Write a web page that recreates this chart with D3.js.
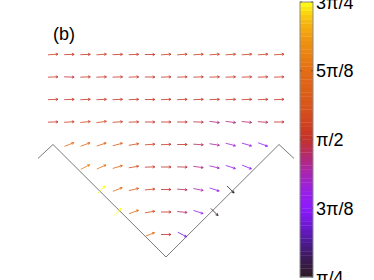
<!DOCTYPE html>
<html>
<head>
<meta charset="utf-8">
<script src="https://cdn.jsdelivr.net/npm/d3@7/dist/d3.min.js"></script>
<style>
html,body{margin:0;padding:0;background:#fff;}
svg{display:block;font-family:"Liberation Sans",Arial,Helvetica,sans-serif;}
</style>
</head>
<body>
<svg id="chart" width="374" height="280"></svg>
<script>
// grid columns (x) and rows (y, top row = 8)
const cols = d3.range(0, 15);
const rows = [8, 7, 6, 5, 4, 3, 2, 1, 0];
// arrow angle per row, in units of pi (0.5 = horizontal); null = no arrow
const angle8 = [0.52,0.51,0.51,0.52,0.51,0.51,0.50,0.52,0.52,0.52,0.52,0.52,0.52,0.52,0.52];
const angle7 = [0.51,0.49,0.51,0.51,0.51,0.51,0.50,0.51,0.51,0.51,0.51,0.51,0.51,0.51,0.51];
const angle6 = [0.51,0.51,0.51,0.51,0.51,0.51,0.50,0.51,0.51,0.51,0.51,0.51,0.51,0.51,0.51];
const angle5 = [0.51,0.52,0.53,0.54,0.52,0.51,0.50,0.50,0.50,0.49,0.46,0.46,0.47,0.48,0.50];
const angle4 = [null,0.62,0.61,0.60,0.58,0.55,0.52,0.51,0.50,0.48,0.45,0.42,0.41,0.39,null];
const angle3 = [null,null,0.65,0.63,0.59,0.55,0.51,0.50,0.49,0.46,0.43,0.40,0.38,null,null];
const angle2 = [null,null,null,0.75,0.62,0.57,0.53,0.50,0.48,0.44,0.40,0.25,null,null,null];
const angle1 = [null,null,null,null,0.75,0.61,0.55,0.50,0.47,0.40,0.25,null,null,null,null];
const angle0 = [null,null,null,null,null,null,0.62,0.50,0.35,null,null,null,null,null,null];
const angles = [angle8, angle7, angle6, angle5, angle4, angle3, angle2, angle1, angle0];
// wedge boundary
const wallX = [-0.93, 0, 7, 14, 14.93];
const wallY = [3.38, 4, -1, 4, 3.38];
// colour bar
const cbarTicks = [0.25, 0.375, 0.5, 0.625, 0.75];
const cbarLabels = ["π/4", "3π/8", "π/2", "5π/8", "3π/4"];
const panelLabel = "(b)";

const svg = d3.select("#chart");
const x = d3.scaleLinear().domain([0, 14]).range([53, 279]);
const y = d3.scaleLinear().domain([0, 8]).range([234.5, 54.5]);

const color = d3.scaleLinear()
  .domain([0.25,0.28,0.3125,0.34,0.375,0.41,0.44,0.47,0.5,0.53,0.5625,0.625,0.6875,0.72,0.75])
  .range(["#2b1b24","#3a1a50","#4c1a90","#6a18cc","#8c1aff","#9a20e0","#a826b0","#b42a70",
          "#c4322a","#d04220","#d8561a","#e46c14","#f09a10","#f8c010","#ffff14"])
  .clamp(true);

// boundary
svg.append("path")
  .attr("d", d3.line().x(d => x(d[0])).y(d => y(d[1]))(d3.zip(wallX, wallY)))
  .attr("fill", "none").attr("stroke", "#7a7a7a").attr("stroke-width", 1);

// arrows
const data = [];
rows.forEach((r, ri) => cols.forEach((c, ci) => {
  const a = angles[ri][ci];
  if (a !== null) data.push({c, r, a});
}));
const L = 10, H = 2.5;
svg.append("g").selectAll("path").data(data).enter().append("path")
  .attr("d", d => {
    const t = (d.a - 0.5) * Math.PI;
    const dx = Math.cos(t), dy = -Math.sin(t);
    const cx = x(d.c), cy = y(d.r);
    const x0 = cx - dx * L / 2, y0 = cy - dy * L / 2;
    const x1 = cx + dx * L / 2, y1 = cy + dy * L / 2;
    const ang = Math.atan2(dy, dx);
    const h1 = [x1 - H * Math.cos(ang - 0.5), y1 - H * Math.sin(ang - 0.5)];
    const h2 = [x1 - H * Math.cos(ang + 0.5), y1 - H * Math.sin(ang + 0.5)];
    return `M${x0},${y0}L${x1},${y1}M${h1[0]},${h1[1]}L${x1},${y1}L${h2[0]},${h2[1]}`;
  })
  .attr("fill", "none")
  .attr("stroke", d => color(d.a))
  .attr("stroke-width", 0.9)
  .attr("stroke-opacity", 0.9);

// panel label
svg.append("text").attr("x", 53).attr("y", 40).attr("font-size", 18).attr("fill", "#000").text(panelLabel);

// colour bar
const cy = d3.scaleLinear().domain([0.25, 0.75]).range([277, 2]);
const nb = 64;
const bands = d3.range(nb).map(i => 0.25 + (i + 0.5) * 0.5 / nb);
const cb = svg.append("g");
cb.selectAll("rect").data(bands).enter().append("rect")
  .attr("x", 300).attr("width", 13)
  .attr("y", d => cy(d + 0.25 / nb))
  .attr("height", d => cy(d - 0.25 / nb) - cy(d + 0.25 / nb) + 0.3)
  .attr("fill", d => color(d));
cb.append("rect").attr("x", 300).attr("y", 2).attr("width", 13).attr("height", 275)
  .attr("fill", "none").attr("stroke", "#8a8a8a").attr("stroke-width", 1);
cb.selectAll(".tk").data(cbarTicks).enter().append("path")
  .attr("d", d => `M300,${cy(d)}h2M313,${cy(d)}h-2`)
  .attr("stroke", "#555").attr("stroke-width", 0.8);
cb.selectAll("text").data(cbarTicks).enter().append("text")
  .attr("x", 316).attr("y", d => cy(d) + 6.5)
  .attr("font-size", 18).attr("fill", "#000")
  .text((d, i) => cbarLabels[i]);
</script>
</body>
</html>
